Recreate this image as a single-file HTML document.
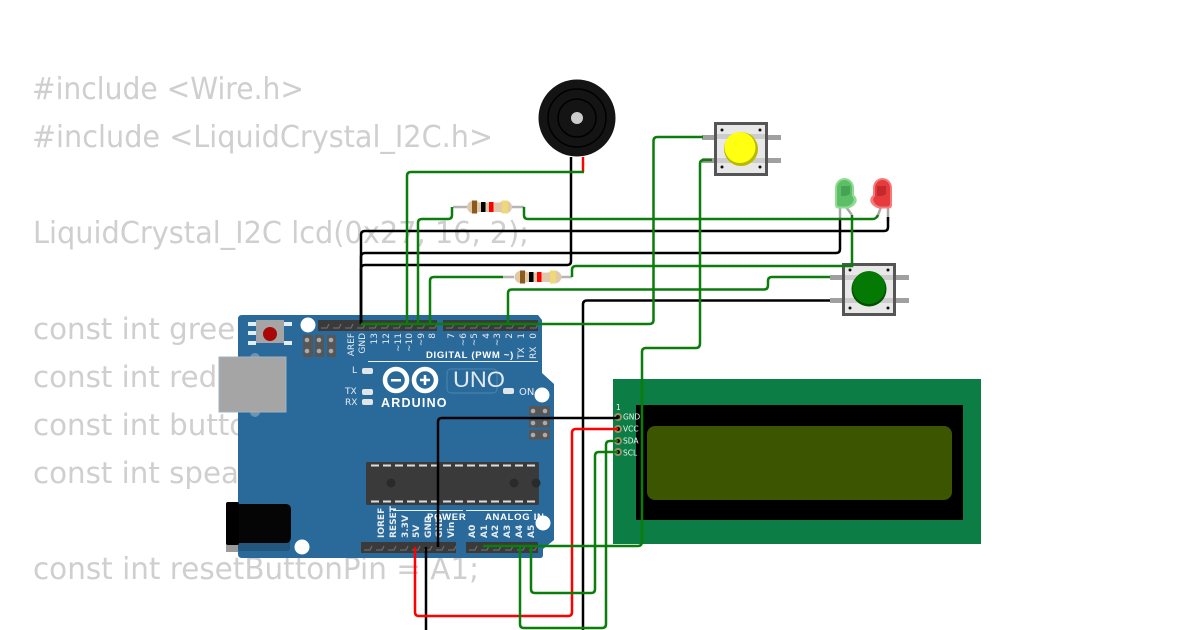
<!DOCTYPE html>
<html><head><meta charset="utf-8"><style>
html,body{margin:0;padding:0;background:#fff}
svg{display:block}
.c{font-family:"DejaVu Sans",sans-serif;font-size:30px;fill:#cfcfcf}
.c2{font-size:29.300px}
.s{font-family:"DejaVu Sans",sans-serif;font-size:9px;fill:#e6ecf2}
.b{font-family:"Liberation Sans",sans-serif;font-size:9.5px;font-weight:bold;fill:#fff;letter-spacing:.7px}
.l{font-family:"DejaVu Sans",sans-serif;font-size:7.500px;fill:#eef5ef}
.w{fill:none;stroke-width:2.500}
</style></head><body>
<svg width="1200" height="630" viewBox="0 0 1200 630" xmlns="http://www.w3.org/2000/svg">
<rect width="1200" height="630" fill="#fff"/>
<g class="c">
<text x="32" y="99" textLength="272" lengthAdjust="spacingAndGlyphs">#include &lt;Wire.h&gt;</text>
<text x="32" y="147" textLength="461" lengthAdjust="spacingAndGlyphs">#include &lt;LiquidCrystal_I2C.h&gt;</text>
<text x="33" y="243" textLength="496" lengthAdjust="spacingAndGlyphs">LiquidCrystal_I2C lcd(0x27, 16, 2);</text>
<text class="c2" x="33" y="339">const int greenLedPin = 2;</text>
<text class="c2" x="33" y="387">const int redLedPin = 3;</text>
<text class="c2" x="33" y="435">const int buttonPin = 4;</text>
<text class="c2" x="33" y="483">const int speakerPin = 5;</text>
<text x="33" y="579" textLength="446" lengthAdjust="spacingAndGlyphs">const int resetButtonPin = A1;</text>
</g>

<!-- Arduino board -->
<path d="M242 315H538L542 320V373L554 384V540L543 549V555Q543 558 540 558H242Q238 558 238 554V319Q238 315 242 315Z" fill="#2a6a9b"/>
<!-- USB -->
<circle cx="255" cy="358" r="5" fill="#6d93b0"/><circle cx="255" cy="412" r="5" fill="#6d93b0"/>
<rect x="219" y="357" width="67" height="55" fill="#a5a5a5" stroke="#9fb3c2" stroke-width="1"/>
<!-- reset -->
<g fill="#e3edf5"><rect x="248" y="322" width="8" height="4"/><rect x="248" y="331" width="8" height="4"/><rect x="248" y="341" width="8" height="4"/><rect x="284" y="322" width="8" height="4"/><rect x="284" y="341" width="8" height="4"/></g>
<rect x="256" y="320" width="28" height="23" fill="#a5a5a5"/><circle cx="270" cy="334" r="7" fill="#a80808"/>
<!-- holes -->
<g fill="#fff"><circle cx="308" cy="325" r="7.500"/><circle cx="542" cy="395" r="7.500"/><circle cx="543" cy="523" r="7.500"/><circle cx="302" cy="547" r="7.500"/></g>
<!-- ICSP -->
<g fill="#565656"><rect x="303" y="335" width="10" height="22"/><rect x="315" y="335" width="9" height="22"/><rect x="327" y="335" width="9" height="22"/></g>
<g fill="#aaa"><circle cx="307" cy="340" r="2.300"/><circle cx="319" cy="340" r="2.300"/><circle cx="331" cy="340" r="2.300"/><circle cx="307" cy="351" r="2.300"/><circle cx="319" cy="351" r="2.300"/><circle cx="331" cy="351" r="2.300"/></g>
<g fill="#565656"><rect x="529" y="406" width="21" height="9.500"/><rect x="529" y="418" width="21" height="9.500"/><rect x="529" y="430" width="21" height="9.500"/></g>
<g fill="#aaa"><circle cx="533" cy="411" r="2.300"/><circle cx="545" cy="411" r="2.300"/><circle cx="533" cy="423" r="2.300"/><circle cx="545" cy="423" r="2.300"/><circle cx="533" cy="435" r="2.300"/><circle cx="545" cy="435" r="2.300"/></g>
<!-- headers -->
<g fill="#3a3a3a">
<rect x="318" y="320" width="119" height="11"/><rect x="443" y="320" width="95" height="11"/>
<rect x="361" y="542" width="95" height="11"/><rect x="466" y="542" width="72" height="11"/></g>
<path d="M321 328h6l2-4M333 328h6l2-4M345 328h6l2-4M357 328h6l2-4M369 328h6l2-4M381 328h6l2-4M393 328h6l2-4M405 328h6l2-4M417 328h6l2-4M429 328h6l2-4M446 328h6l2-4M458 328h6l2-4M470 328h6l2-4M482 328h6l2-4M494 328h6l2-4M506 328h6l2-4M518 328h6l2-4M530 328h6l2-4M364 550h6l2-4M376 550h6l2-4M388 550h6l2-4M400 550h6l2-4M412 550h6l2-4M424 550h6l2-4M436 550h6l2-4M448 550h6l2-4M469 550h6l2-4M481 550h6l2-4M493 550h6l2-4M505 550h6l2-4M517 550h6l2-4M529 550h6l2-4" fill="none" stroke="#6a6a6a" stroke-width="1.300"/>
<!-- digital labels -->
<g class="s" text-anchor="end">
<text transform="translate(354,333) rotate(-90)">AREF</text>
<text transform="translate(365,333) rotate(-90)">GND</text>
<text transform="translate(377,333) rotate(-90)">13</text>
<text transform="translate(389,333) rotate(-90)">12</text>
<text transform="translate(401,333) rotate(-90)">~11</text>
<text transform="translate(412,333) rotate(-90)">~10</text>
<text transform="translate(424,333) rotate(-90)">~9</text>
<text transform="translate(435,333) rotate(-90)">8</text>
<text transform="translate(454,333) rotate(-90)">7</text>
<text transform="translate(466,333) rotate(-90)">~6</text>
<text transform="translate(477,333) rotate(-90)">~5</text>
<text transform="translate(489,333) rotate(-90)">4</text>
<text transform="translate(500,333) rotate(-90)">~3</text>
<text transform="translate(512,333) rotate(-90)">2</text>
<text transform="translate(524,333) rotate(-90)">1</text>
<text transform="translate(536,333) rotate(-90)">0</text>
</g>
<g class="s"><text transform="translate(524,359) rotate(-90)">TX</text><text transform="translate(536,359) rotate(-90)">RX</text></g>
<text class="b" x="426" y="358">DIGITAL (PWM ~)</text>
<rect x="368" y="361" width="170" height="1" fill="#eaf1f6"/>
<g class="s"><text x="352" y="373">L</text><text x="345" y="394">TX</text><text x="345" y="405">RX</text><text x="519" y="395" font-size="10">ON</text></g>
<g fill="#dfe5e8"><rect x="362" y="368" width="11" height="6" rx="2"/><rect x="362" y="389" width="11" height="6" rx="2"/><rect x="362" y="399" width="11" height="6" rx="2"/><rect x="503" y="388" width="11" height="6" rx="2"/></g>
<!-- logo -->
<circle cx="396" cy="380" r="11" fill="none" stroke="#fff" stroke-width="4.500"/>
<circle cx="425" cy="380" r="11" fill="none" stroke="#fff" stroke-width="4.500"/>
<rect x="391" y="379" width="10" height="2.500" fill="#fff"/><path d="M420 380h10M425 375v10" stroke="#fff" stroke-width="2.500"/>
<text x="381" y="407" font-family="Liberation Sans,sans-serif" font-size="12.500" font-weight="bold" fill="#fff" letter-spacing="1.200">ARDUINO</text>
<rect x="447" y="369" width="50" height="24" rx="4" fill="none" stroke="#4a85b2" stroke-width="1"/>
<text x="453" y="387" font-family="Liberation Sans,sans-serif" font-size="22" fill="#dfe9f1" textLength="52" lengthAdjust="spacingAndGlyphs">UNO</text>
<!-- IC -->
<rect x="366" y="462" width="173" height="43" rx="1.500" fill="#3a3a3a"/>
<g stroke="#ddd" stroke-width="2" stroke-dasharray="8 4"><path d="M371 465.500H536"/><path d="M371 501.500H536"/></g>
<g fill="#2a2a2a"><circle cx="391" cy="483" r="4.500"/><circle cx="514" cy="483" r="4.500"/><circle cx="536" cy="483" r="4.500"/></g>
<!-- power labels -->
<g class="s" font-weight="bold">
<text transform="translate(384,538) rotate(-90)">IOREF</text>
<text transform="translate(396,538) rotate(-90)">RESET</text>
<text transform="translate(408,538) rotate(-90)">3.3V</text>
<text transform="translate(419,538) rotate(-90)">5V</text>
<text transform="translate(431,538) rotate(-90)">GND</text>
<text transform="translate(442,538) rotate(-90)">GND</text>
<text transform="translate(454,538) rotate(-90)">Vin</text>
<text transform="translate(475,538) rotate(-90)">A0</text>
<text transform="translate(487,538) rotate(-90)">A1</text>
<text transform="translate(498,538) rotate(-90)">A2</text>
<text transform="translate(510,538) rotate(-90)">A3</text>
<text transform="translate(522,538) rotate(-90)">A4</text>
<text transform="translate(534,538) rotate(-90)">A5</text>
</g>
<text class="b" x="427" y="520">POWER</text><text class="b" x="485" y="520">ANALOG IN</text>
<rect x="393" y="510" width="70" height="1" fill="#eaf1f6"/><rect x="466" y="510" width="66" height="1" fill="#eaf1f6"/>
<!-- jack -->
<rect x="238" y="530" width="52" height="21" rx="3" fill="#24557c"/>
<rect x="226" y="538" width="12" height="14" fill="#9a9a9a"/>
<path d="M238 504H286Q291 504 291 510V536Q291 543 286 543H238Z" fill="#050505"/>
<rect x="226" y="502" width="13" height="43" rx="2" fill="#000"/>

<!-- LCD -->
<rect x="613" y="379" width="368" height="165" fill="#0b7d45"/>
<rect x="636" y="405" width="327" height="115" fill="#000"/>
<rect x="647" y="426" width="305" height="74" rx="8" fill="#3c5500"/>
<g fill="#9b9365"><circle cx="618" cy="417" r="4"/><circle cx="618" cy="429" r="4"/><circle cx="618" cy="441" r="4"/><circle cx="618" cy="452" r="4"/></g>
<g fill="#111"><circle cx="618" cy="417" r="2"/><circle cx="618" cy="429" r="2"/><circle cx="618" cy="441" r="2"/><circle cx="618" cy="452" r="2"/></g>
<g class="l"><text x="616" y="410">1</text><text x="623" y="419.500">GND</text><text x="623" y="431.500">VCC</text><text x="623" y="443.500">SDA</text><text x="623" y="455.500">SCL</text></g>

<!-- Buzzer -->
<circle cx="577" cy="118" r="38.500" fill="#141414"/>
<circle cx="577" cy="118" r="29" fill="none" stroke="#000" stroke-width="1.500"/>
<circle cx="577" cy="118" r="19" fill="none" stroke="#000" stroke-width="1.500"/>
<circle cx="577" cy="118" r="6" fill="#ccc"/>

<!-- Yellow button -->
<g fill="#a0a0a0"><rect x="702" y="135" width="12" height="5"/><rect x="702" y="158" width="12" height="5"/><rect x="768" y="135" width="13" height="5"/><rect x="768" y="158" width="13" height="5"/></g>
<rect x="715.500" y="123.500" width="51" height="51" fill="#e8e8e8" stroke="#555" stroke-width="3"/>
<rect x="717" y="134" width="48" height="5" fill="#ccc"/><rect x="717" y="158" width="48" height="5" fill="#ccc"/>
<g fill="#111"><circle cx="722" cy="130" r="1.500"/><circle cx="760" cy="130" r="1.500"/><circle cx="722" cy="167" r="1.500"/><circle cx="760" cy="167" r="1.500"/></g>
<circle cx="741" cy="149" r="17" fill="#b9b900"/><circle cx="740" cy="147.500" r="15.500" fill="#ffff12"/>

<!-- Green button -->
<g fill="#a0a0a0"><rect x="830" y="275" width="12" height="5"/><rect x="830" y="298" width="12" height="5"/><rect x="896" y="275" width="13" height="5"/><rect x="896" y="298" width="13" height="5"/></g>
<rect x="843.500" y="264.500" width="51" height="50" fill="#e8e8e8" stroke="#555" stroke-width="3"/>
<rect x="845" y="275" width="48" height="5" fill="#ccc"/><rect x="845" y="298" width="48" height="5" fill="#ccc"/>
<g fill="#111"><circle cx="850" cy="270" r="1.500"/><circle cx="888" cy="270" r="1.500"/><circle cx="850" cy="308" r="1.500"/><circle cx="888" cy="308" r="1.500"/></g>
<circle cx="869" cy="289" r="17.500" fill="#014f01"/><circle cx="869" cy="287.500" r="16.500" fill="#047a04"/>

<!-- LEDs -->
<g fill="none" stroke="#a8a8a8" stroke-width="2.500"><path d="M840 206V220"/><path d="M846 207L852 215"/><path d="M881 207L877 218"/><path d="M888 207V222"/></g>
<path d="M835 205V188A9.500 10 0 0 1 854 188V195Q857.500 198 856.500 202Q854 207 848 208.500H838Q835 208 835 205Z" fill="#8fdc92"/>
<path d="M837 204V188A7.500 8 0 0 1 852 188V196Q855 199 853 202Q851 206 846 206.500H839Q837 206 837 204Z" fill="#5cbf68"/>
<path d="M841 186H850V194L846 196H841Z" fill="#47a354"/>
<path d="M892 205V188A9.500 10 0 0 0 873 188V195Q869.500 198 870.500 202Q873 207 879 208.500H889Q892 208 892 205Z" fill="#f47a7c"/>
<path d="M890 204V188A7.500 8 0 0 0 875 188V196Q872 199 874 202Q876 206 881 206.500H888Q890 206 890 204Z" fill="#e63a3d"/>
<path d="M877 186H886V194L882 196H877Z" fill="#c42a2d"/>

<!-- Resistors -->
<g fill="none" stroke="#b5b5b5" stroke-width="2.500"><path d="M453 207H467M512 207H524"/><path d="M503 277H514M561 277H572"/></g>
<g fill="#e0c9a8">
<rect x="470" y="202.500" width="40" height="9.500" /><ellipse cx="474" cy="207" rx="7" ry="6.500"/><ellipse cx="505" cy="207" rx="7" ry="6.500"/>
<rect x="518" y="272.500" width="40" height="9.500"/><ellipse cx="522" cy="277" rx="7.500" ry="6.500"/><ellipse cx="554" cy="277" rx="7.500" ry="6.500"/>
</g>
<rect x="472" y="200.500" width="5" height="13" fill="#8c5a1e"/><rect x="481" y="202" width="4.500" height="10" fill="#000"/><rect x="489" y="202" width="4.500" height="10" fill="#f00"/><rect x="502" y="200.500" width="6" height="13" fill="#eed87a"/>
<rect x="520" y="270.500" width="5" height="13" fill="#8c5a1e"/><rect x="529" y="272" width="4.500" height="10" fill="#000"/><rect x="537" y="272" width="4.500" height="10" fill="#f00"/><rect x="550" y="270.500" width="6" height="13" fill="#eed87a"/>

<!-- wires -->
<g class="w" stroke="#000">
<path d="M571 157V261Q571 265 567 265H365Q361 265 361 269V324"/>
<path d="M361 324V257Q361 253 365 253H836Q840 253 840 249V220"/>
<path d="M361 324V235Q361 231 365 231H884Q888 231 888 227V217"/>
<path d="M830 300.500H587Q583 300.500 583 304.500V630"/>
<path d="M438 547V422Q438 418 442 418H618"/>
<path d="M426 547V630"/>
</g>
<path class="w" stroke="#f00" d="M583 157V172"/>
<path class="w" stroke="#f00" d="M415 547V612Q415 616 419 616H568Q572 616 572 612V433Q572 429 576 429H618"/>
<g class="w" stroke="#0a7d0a">
<path d="M584 172H411Q407 172 407 176V324"/>
<path d="M452 207V215Q452 219 448 219H422Q418 219 418 223V324"/>
<path d="M524 207V215Q524 219 528 219H873Q876 219 878 215"/>
<path d="M503 277H434Q430 277 430 281V324"/>
<path d="M572 277V270Q572 266 576 266H852V215"/>
<path d="M508 324V293Q508 289.500 512 289.500H764Q768 289.500 768 285V281Q768 277 772 277H830"/>
<path d="M361 324H649Q653.500 324 653.500 320V141Q653.500 137 657.500 137H703"/>
<path d="M712 160H704Q700 160 700 164V343Q700 348 696 348H646Q642 348 642 352V541Q642 546 638 546H483"/>
<path d="M531 547V589Q531 593 535 593H591Q595 593 595 589V456Q595 452 599 452H618"/>
<path d="M520 547V624Q520 628 524 628H602Q606 628 606 624V445Q606 441 610 441H618"/>
</g>
</svg>
</body></html>
